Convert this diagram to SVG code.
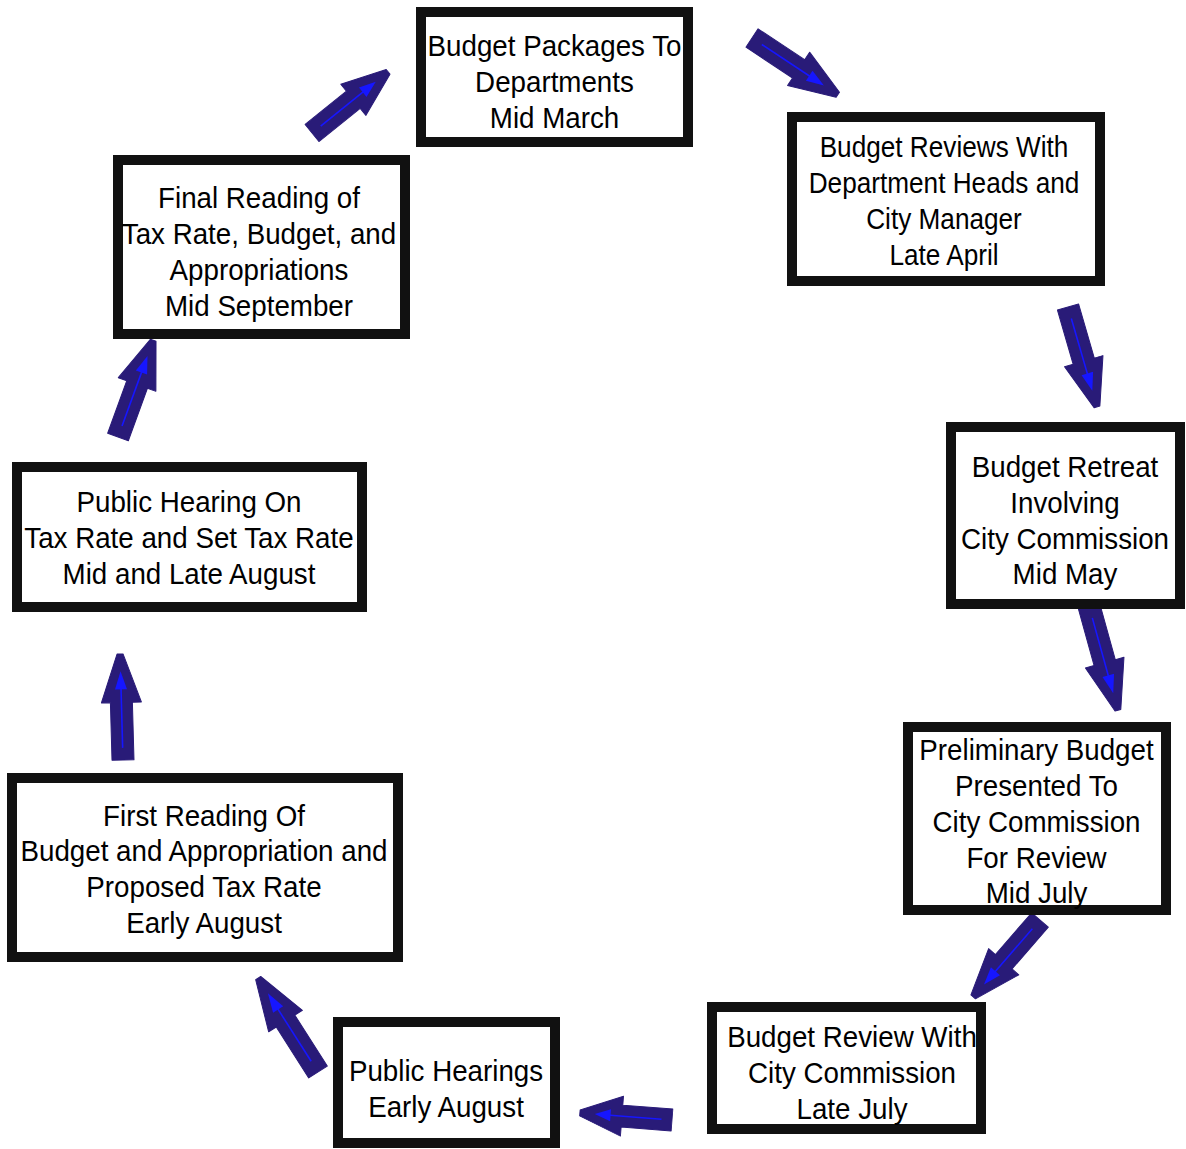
<svg xmlns="http://www.w3.org/2000/svg" xmlns:xlink="http://www.w3.org/1999/xlink" width="1186" height="1149" viewBox="0 0 1186 1149">
<style>
.box{fill:#fff;stroke:#111;stroke-width:10}
.t{font-family:"Liberation Sans",Arial,sans-serif;font-size:30px;fill:#000;text-anchor:middle}
.ab{fill:#291b78;stroke:#291b78;stroke-width:1;stroke-linejoin:round}
.al{stroke:#1616ff;stroke-width:1.6;fill:none}
.ah{fill:#1616ff}
</style>
<defs>
<g id="arr">
<polygon class="ab" points="0,-11 57,-11 57,-20 105,-3 105,3 57,20 57,11 0,11"/>
<line class="al" x1="12" y1="0" x2="74" y2="0"/>
<polygon class="ah" points="70,-6 88,0 70,6"/>
</g>
</defs>
<rect width="1186" height="1149" fill="#fff"/>

<g id="connectors">
<use xlink:href="#arr" transform="translate(752,38) rotate(33.5) scale(0.98,1)"/>
<use xlink:href="#arr" transform="translate(1068,307) rotate(73.8) scale(0.99,1)"/>
<use xlink:href="#arr" transform="translate(1089,606) rotate(74.5) scale(1.03,1)"/>
<use xlink:href="#arr" transform="translate(1040,920) rotate(131) scale(0.97,1)"/>
<use xlink:href="#arr" transform="translate(672,1120) rotate(184.4) scale(0.88,1)"/>
<use xlink:href="#arr" transform="translate(318,1072) rotate(237.5) scale(1.06,1)"/>
<use xlink:href="#arr" transform="translate(123,760) rotate(268.4) scale(1.01,1)"/>
<use xlink:href="#arr" transform="translate(118,437) rotate(-70) scale(0.98,1)"/>
<use xlink:href="#arr" transform="translate(312,133) rotate(-38.8) scale(0.93,1)"/>
</g>

<g id="n1">
<rect class="box" x="421" y="12" width="267" height="130"/>
<text class="t" transform="translate(554.5,0) scale(0.925,1)"><tspan x="0" y="56">Budget Packages To</tspan><tspan x="0" y="92">Departments</tspan><tspan x="0" y="128">Mid March</tspan></text>
</g>
<g id="n2">
<rect class="box" x="792" y="117" width="308" height="164"/>
<text class="t" transform="translate(944,0) scale(0.873,1)"><tspan x="0" y="157">Budget Reviews With</tspan><tspan x="0" y="193">Department Heads and</tspan><tspan x="0" y="229">City Manager</tspan><tspan x="0" y="265">Late April</tspan></text>
</g>
<g id="n3">
<rect class="box" x="951" y="427" width="229" height="177"/>
<text class="t" transform="translate(1065,0) scale(0.925,1)"><tspan x="0" y="477">Budget Retreat</tspan><tspan x="0" y="513">Involving</tspan><tspan x="0" y="549">City Commission</tspan><tspan x="0" y="584">Mid May</tspan></text>
</g>
<g id="n4">
<rect class="box" x="908" y="727" width="258" height="183"/>
<text class="t" transform="translate(1036.5,0) scale(0.925,1)"><tspan x="0" y="760">Preliminary Budget</tspan><tspan x="0" y="796">Presented To</tspan><tspan x="0" y="832">City Commission</tspan><tspan x="0" y="868">For Review</tspan><tspan x="0" y="903">Mid July</tspan></text>
</g>
<g id="n5">
<rect class="box" x="712" y="1007" width="269" height="122"/>
<text class="t" transform="translate(852,0) scale(0.925,1)"><tspan x="0" y="1047">Budget Review With</tspan><tspan x="0" y="1083">City Commission</tspan><tspan x="0" y="1119">Late July</tspan></text>
</g>
<g id="n6">
<rect class="box" x="338" y="1022" width="217" height="121"/>
<text class="t" transform="translate(446,0) scale(0.925,1)"><tspan x="0" y="1081">Public Hearings</tspan><tspan x="0" y="1117">Early August</tspan></text>
</g>
<g id="n7">
<rect class="box" x="12" y="778" width="386" height="179"/>
<text class="t" transform="translate(204,0) scale(0.925,1)"><tspan x="0" y="826">First Reading Of</tspan><tspan x="0" y="861">Budget and Appropriation and</tspan><tspan x="0" y="897">Proposed Tax Rate</tspan><tspan x="0" y="933">Early August</tspan></text>
</g>
<g id="n8">
<rect class="box" x="17" y="467" width="345" height="140"/>
<text class="t" transform="translate(189,0) scale(0.925,1)"><tspan x="0" y="512">Public Hearing On</tspan><tspan x="0" y="548">Tax Rate and Set Tax Rate</tspan><tspan x="0" y="584">Mid and Late August</tspan></text>
</g>
<g id="n9">
<rect class="box" x="118" y="160" width="287" height="174"/>
<text class="t" transform="translate(259,0) scale(0.925,1)"><tspan x="0" y="208">Final Reading of</tspan><tspan x="0" y="244">Tax Rate, Budget, and</tspan><tspan x="0" y="280">Appropriations</tspan><tspan x="0" y="316">Mid September</tspan></text>
</g>
</svg>
